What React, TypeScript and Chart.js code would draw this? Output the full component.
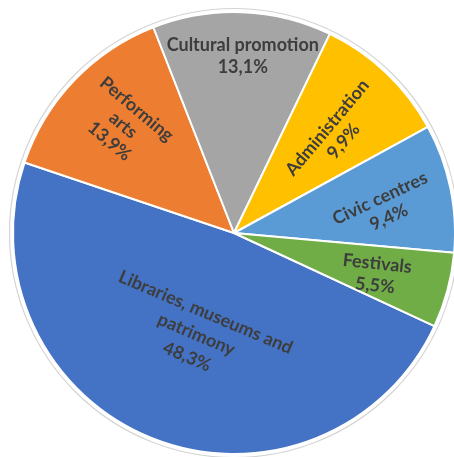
import React, { useEffect, useRef } from "react";
import { Chart, registerables } from "chart.js";

Chart.register(...registerables);

const categories = [
  "Libraries, museums and patrimony",
  "Performing arts",
  "Cultural promotion",
  "Administration",
  "Civic centres",
  "Festivals",
];
const labelLines = [
  ["Libraries, museums and", "patrimony"],
  ["Performing", "arts"],
  ["Cultural promotion"],
  ["Administration"],
  ["Civic centres"],
  ["Festivals"],
];
const shares = [48.3, 13.9, 13.1, 9.9, 9.4, 5.5];
const percentLabels = ["48,3%", "13,9%", "13,1%", "9,9%", "9,4%", "5,5%"];
const colors = ["#4472C4", "#ED7D31", "#A5A5A5", "#FFC000", "#5B9BD5", "#70AD47"];

// label layout: radial fraction, angular nudge (deg), text rotation (deg), line height
const labelFrac = [0.49, 0.7, 0.8, 0.64, 0.69, 0.67];
const labelNudge = [-1.4, 0.6, 0.7, 2.3, 2.3, 1.3];
const labelRot = [23, 40, 0, -50, -25, 6];
const labelLineH = [24, 21, 22, 21, 21, 22];

const outlinePlugin = {
  id: "outline",
  beforeDatasetsDraw(chart: any) {
    const arc = chart.getDatasetMeta(0).data[0];
    if (!arc) return;
    const { x, y, outerRadius } = arc.getProps(["x", "y", "outerRadius"], true);
    const ctx = chart.ctx;
    ctx.save();
    ctx.beginPath();
    ctx.arc(x, y, outerRadius + 3.5, 0, Math.PI * 2);
    ctx.strokeStyle = "#d4d4d4";
    ctx.lineWidth = 1.2;
    ctx.stroke();
    ctx.restore();
  },
};

const labelPlugin = {
  id: "sliceLabels",
  afterDatasetsDraw(chart: any) {
    const meta = chart.getDatasetMeta(0);
    const ctx = chart.ctx;
    ctx.save();
    ctx.fillStyle = "#3d3d3d";
    ctx.font = "bold 18px Lato";
    ctx.textAlign = "center";
    ctx.textBaseline = "middle";
    meta.data.forEach((arc: any, i: number) => {
      const { x, y, startAngle, endAngle, outerRadius } = arc.getProps(
        ["x", "y", "startAngle", "endAngle", "outerRadius"],
        true
      );
      const mid = (startAngle + endAngle) / 2 + (labelNudge[i] * Math.PI) / 180;
      const r = outerRadius * labelFrac[i];
      const px = x + Math.cos(mid) * r;
      const py = y + Math.sin(mid) * r;
      const lines = [...labelLines[i], percentLabels[i]];
      const lh = labelLineH[i];
      ctx.save();
      ctx.translate(px, py);
      ctx.rotate((labelRot[i] * Math.PI) / 180);
      lines.forEach((t, k) => {
        ctx.fillText(t, 0, (k - (lines.length - 1) / 2) * lh);
      });
      ctx.restore();
    });
    ctx.restore();
  },
};

export default function App() {
  const ref = useRef<HTMLCanvasElement>(null);
  useEffect(() => {
    if (!ref.current) return;
    const chart = new Chart(ref.current, {
      type: "pie",
      data: {
        labels: categories,
        datasets: [
          {
            data: shares,
            backgroundColor: colors,
            borderColor: "#ffffff",
            borderWidth: 2,
            radius: 221,
            clip: false,
          } as any,
        ],
      },
      options: {
        responsive: false,
        animation: false,
        rotation: 114.9,
        layout: { padding: { left: 14, top: 9, right: 0, bottom: 0 } },
        plugins: {
          legend: { display: false },
          tooltip: { enabled: false },
          title: { display: false },
        },
      } as any,
      plugins: [outlinePlugin, labelPlugin],
    });
    return () => chart.destroy();
  }, []);
  return (
    <div style={{ position: "fixed", left: 0, top: 0, width: 454, height: 457, background: "#fff" }}>
      <canvas ref={ref} width={454} height={457} style={{ display: "block", width: 454, height: 457 }} />
    </div>
  );
}
